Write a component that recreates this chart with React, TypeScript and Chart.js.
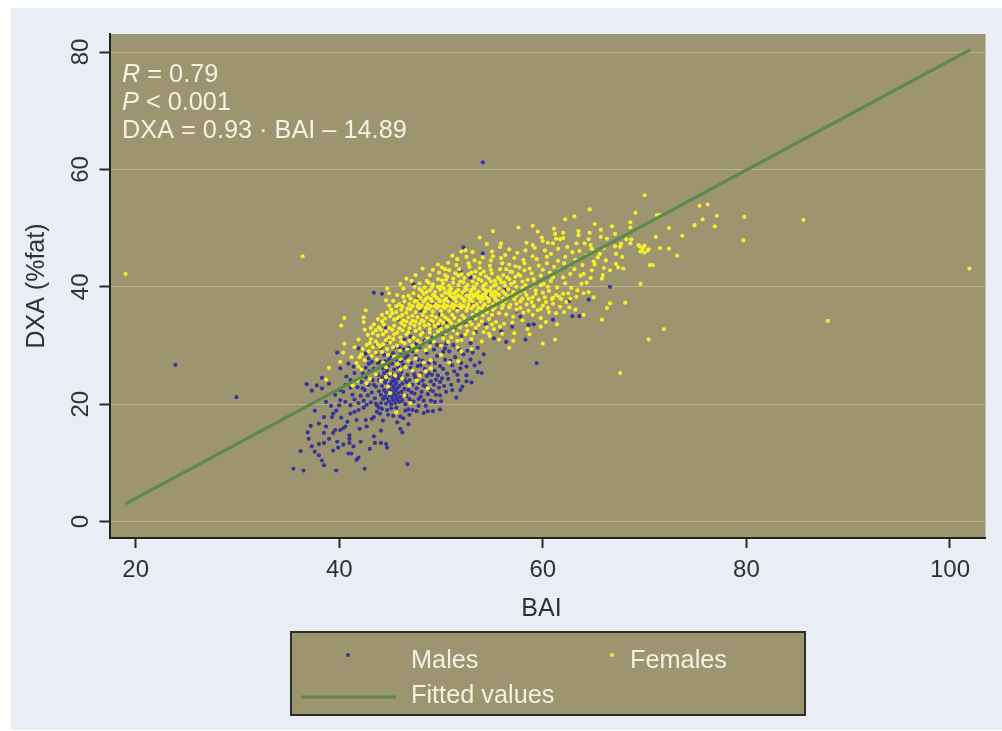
import React, { useEffect, useRef } from "react";
import { Chart, registerables } from "chart.js";

Chart.register(...registerables);

type P = [number, number];

const maleOutliers: P[] = [[23.9,26.7],[29.9,21.2],[54.1,61.2],[52.2,46.7],[54.1,45.7],[43.4,39.0],[44.2,38.8],[47.3,40.4],[66.6,40.0],[62.6,37.6],[62.9,35.0],[59.1,33.6],[57.8,34.9],[57.4,35.9]];

const maleLow: P[] = [[35.5,9.0],[36.5,8.7],[39.7,8.7],[42.5,9.0],[46.7,9.8],[36.2,12.0],[37.3,12.8],[37.6,11.9],[38.0,11.3],[38.3,10.4],[38.5,9.6],[37.0,14.1],[38.0,13.2],[38.5,13.4],[39.0,14.1],[39.4,12.1],[39.8,13.6],[39.9,12.6],[40.4,13.1],[41.0,14.7],[41.0,14.1],[41.0,13.4],[41.4,12.8],[40.9,11.6],[41.2,11.6],[41.9,10.9],[41.7,10.5],[43.0,12.4],[43.5,13.4],[43.4,14.5],[44.1,15.5],[44.6,13.2],[44.7,12.6],[44.1,13.4],[46.0,15.8],[46.2,15.2],[46.8,16.6],[38.0,16.7],[38.5,17.8],[38.7,16.2],[39.3,17.8],[39.4,15.1],[39.6,15.6],[40.1,15.6],[40.4,15.9],[40.6,16.2],[40.8,17.0],[40.2,17.7],[39.7,18.9],[39.4,18.4],[40.1,20.7],[40.6,20.4],[41.1,18.4],[41.5,18.7],[41.9,19.0],[42.4,19.4],[42.6,17.3],[42.7,16.2],[43.2,17.5],[43.4,17.8],[43.7,18.7],[43.9,19.4],[44.2,19.2],[44.7,19.0],[45.1,19.3],[45.6,19.4],[46.0,17.9],[46.5,18.9],[46.8,19.1],[48.3,18.5],[48.7,18.8],[49.2,18.8],[49.9,19.1],[47.8,19.7],[47.1,20.4],[49.4,20.4],[49.9,21.5],[50.5,22.1],[51.5,21.1],[51.9,22.4],[52.1,23.0],[52.5,23.9],[53.0,23.7],[52.5,26.4],[53.6,25.5],[54.0,25.3]];

const maleLeft: P[] = [[36.8,23.4],[37.8,23.2],[38.3,22.7],[37.3,22.3],[38.3,24.5],[39.8,28.8],[40.1,26.1],[41.9,29.5],[40.1,22.4],[40.4,22.1],[40.7,24.7],[41.1,24.1],[40.9,26.9],[41.4,26.4],[42.9,26.9],[42.9,27.8],[43.7,30.2],[43.7,28.6],[41.3,21.6],[41.5,20.8],[41.8,22.9],[41.9,20.2],[42.1,21.4],[42.2,23.8],[42.3,25.3],[42.4,20.6],[42.5,22.4],[42.6,24.6],[42.7,19.9],[42.8,21.5],[42.9,23.3],[43.0,25.6],[43.1,20.3],[43.2,22.0],[43.3,24.1],[43.4,26.0],[43.5,21.0],[43.6,23.0],[43.7,19.8],[43.8,25.0],[43.9,22.2],[44.0,27.2]];

const maleCore: P[] = [[44.1,20.2],[44.1,21.6],[44.2,23.1],[44.2,24.6],[44.3,26.1],[44.3,20.9],[44.4,22.4],[44.4,25.3],[44.5,21.3],[44.5,23.7],[44.5,27.3],[44.6,20.1],[44.6,22.0],[44.6,24.2],[44.7,25.7],[44.7,21.0],[44.8,23.0],[44.8,26.5],[44.9,20.5],[44.9,22.6],[44.9,24.9],[45.0,21.5],[45.0,23.4],[45.0,28.1],[45.1,20.0],[45.1,22.2],[45.1,25.2],[45.2,21.1],[45.2,23.9],[45.2,26.9],[45.3,20.7],[45.3,22.8],[45.3,24.5],[45.4,21.7],[45.4,23.2],[45.4,25.9],[45.5,20.2],[45.5,22.3],[45.5,24.0],[45.6,21.3],[45.6,23.6],[45.6,27.6],[45.7,20.8],[45.7,22.7],[45.7,25.1],[45.8,21.9],[45.8,24.4],[45.8,26.3],[45.9,20.4],[45.9,23.1],[46.0,21.2],[46.0,24.8],[46.0,28.9],[46.1,22.1],[46.1,25.5],[46.2,20.6],[46.2,23.5],[46.3,21.6],[46.3,26.7],[46.4,22.6],[46.4,24.3],[46.5,20.0],[46.5,27.9],[46.6,21.4],[46.6,23.8],[46.7,25.0],[46.8,22.4],[46.8,29.6],[46.9,20.9],[46.9,24.1],[47.0,26.2],[47.1,22.0],[47.1,27.0],[47.2,23.3],[47.3,20.5],[47.3,25.4],[47.4,21.8],[47.5,28.2],[47.5,24.5],[47.6,22.7],[47.7,26.5],[47.8,20.9],[47.8,23.6],[47.9,29.7],[48.0,25.2],[48.1,22.1],[48.2,27.4],[48.2,24.0],[48.3,20.6],[48.4,26.0],[48.5,23.0],[48.6,28.7],[48.7,21.7],[48.8,25.3],[48.9,30.6],[49.0,23.9],[49.1,27.5],[49.2,22.2],[49.3,29.3],[49.4,25.7],[49.5,24.2],[49.6,28.2],[49.8,22.8],[49.9,26.5],[50.0,30.1],[50.1,24.4],[50.2,28.9],[50.4,27.6],[50.5,30.3],[50.6,25.2],[50.8,29.0],[51.0,23.3],[51.1,26.6],[51.2,30.1],[51.4,28.0],[51.6,25.0],[51.8,29.2],[52.0,27.0],[52.6,29.1],[53.1,28.8],[53.8,27.1],[54.2,28.5],[44.4,28.4],[43.8,27.0],[46.3,29.3],[47.6,30.3],[45.4,29.6],[44.8,30.6],[47.0,31.5],[48.3,32.3],[49.2,31.4],[50.1,31.9],[51.3,32.8],[52.0,31.6],[52.9,30.4],[53.4,32.3],[54.4,33.6],[55.2,31.2],[55.9,32.4],[56.4,30.6],[57.0,33.2],[58.3,31.0],[59.4,27.0],[58.6,33.5],[61.0,34.4],[63.6,35.0],[64.5,37.8]];

const maleFill: P[] = [[42.3,22.7],[42.6,26.2],[43.2,27.2],[43.4,23.3],[43.6,20.1],[43.9,24.1],[44.0,18.4],[44.3,17.2],[44.8,18.2],[45.3,18.0],[45.7,16.9],[46.3,17.6],[46.9,18.2],[47.2,19.0],[47.6,18.8],[47.4,24.9],[47.8,27.6],[48.0,21.3],[48.0,26.6],[48.3,23.2],[48.5,19.7],[48.6,24.8],[48.8,27.0],[48.9,22.5],[49.0,20.6],[49.1,25.0],[49.3,23.3],[49.4,27.0],[49.5,21.6],[49.6,30.1],[49.7,24.9],[49.9,23.8],[50.0,20.5],[50.2,26.0],[50.3,23.1],[50.4,29.5],[50.7,24.3],[50.9,27.4],[51.1,22.4],[51.3,25.6],[51.5,29.7],[51.7,24.0],[51.9,26.1],[52.2,28.5],[52.5,24.9],[52.9,27.6],[53.3,26.6],[53.6,29.6],[46.7,28.3],[47.2,29.0],[46.1,27.3],[45.3,28.7],[44.1,29.6],[42.6,28.6],[41.5,25.3],[41.1,22.8],[40.6,23.3],[39.6,21.6],[39.2,19.7],[39.0,23.5],[38.7,20.4],[37.6,18.9],[37.2,16.3],[36.9,15.2],[38.5,15.1],[42.0,15.8],[41.7,17.3],[42.1,13.6],[40.0,19.8],[41.1,19.8],[44.9,27.5],[45.9,29.7],[48.4,30.8],[46.4,31.0],[49.8,33.3],[52.4,33.8],[53.0,34.6]];

const maleHidden: P[] = [[44.6,33.0],[45.8,34.5],[46.9,32.6],[48.0,36.0],[49.1,37.2],[49.9,35.3],[50.8,37.8],[51.6,36.4],[52.3,39.0],[53.1,37.1],[54.0,41.0],[54.7,38.6],[55.3,36.6],[56.3,39.5],[52.9,41.6],[51.9,42.7],[50.6,34.0],[47.7,38.2],[48.9,33.8],[46.2,36.8]];

const femaleOutliers: P[] = [[19.0,42.2],[36.4,45.2],[70.0,55.6],[75.4,53.8],[76.2,54.0],[77.1,52.1],[75.7,51.5],[74.9,50.5],[76.9,50.3],[79.8,51.9],[79.7,47.9],[85.6,51.4],[88.0,34.2],[101.9,43.1],[72.4,50.0],[71.2,52.2],[71.5,52.2],[71.1,48.5],[73.7,48.7],[71.5,46.6],[72.4,46.5],[73.2,45.3],[70.5,43.7],[70.8,43.7],[69.6,46.0],[69.8,46.5],[70.0,47.0],[70.3,46.2],[69.5,46.9],[69.6,40.5],[71.9,32.8],[70.4,31.0],[67.6,25.3],[64.6,53.2],[63.1,52.0],[62.2,51.5],[69.1,52.6],[68.6,51.0],[68.6,50.1],[65.1,50.7],[66.8,50.3],[59.0,50.4],[57.6,50.1],[55.1,49.5],[53.8,48.4],[54.5,47.3],[55.9,47.4],[55.8,46.8],[52.4,46.2],[49.7,43.8],[46.6,41.4],[44.7,39.7],[44.9,38.9],[44.6,37.7],[48.6,41.0],[42.6,36.0],[40.5,34.7],[40.2,33.4],[42.4,34.8],[42.4,34.0],[44.2,35.2],[40.5,30.3],[40.4,28.8],[40.1,27.2],[39.0,26.2],[38.7,24.2],[66.6,37.2],[68.1,37.3],[65.8,34.4],[66.3,36.4]];

const femaleUpper: P[] = [[59.5,49.4],[61.1,49.9],[61.2,49.0],[62.0,49.2],[63.5,49.5],[63.5,48.8],[64.6,49.2],[65.7,49.7],[65.7,48.5],[67.1,49.0],[66.3,48.2],[59.9,48.4],[60.0,47.8],[60.5,47.5],[61.3,48.2],[61.0,47.4],[61.7,48.1],[62.0,48.3],[63.3,47.4],[64.5,48.1],[64.1,47.4],[64.7,47.1],[64.8,46.5],[68.2,48.1],[68.7,48.1],[68.6,47.4],[67.7,47.3],[67.6,46.8],[67.1,46.9],[67.2,45.6],[67.8,45.1],[66.2,44.5],[65.6,45.6],[65.4,45.0],[69.4,47.1],[69.9,46.8],[70.4,46.4],[69.7,46.1],[70.0,45.8],[67.9,43.1],[67.4,43.3],[67.2,43.9],[66.6,42.8],[65.9,42.0],[65.8,41.4],[64.3,40.7],[63.8,40.5],[62.2,40.6],[56.7,46.4],[57.5,45.8],[58.3,46.2],[59.2,46.6],[57.2,44.9],[58.1,44.6],[59.0,45.2],[60.2,46.2],[60.8,45.6],[61.5,46.5],[62.4,46.8],[62.9,45.9],[63.6,46.1],[62.2,45.1],[63.2,44.6],[64.3,45.3],[65.0,44.3],[66.0,43.2],[63.9,43.7],[64.8,42.8],[62.6,43.6],[61.5,44.4],[60.4,44.0],[59.6,43.6],[58.7,43.1],[57.7,43.3],[56.7,43.8],[55.9,44.9],[55.1,45.2],[54.1,45.0],[53.3,44.5],[52.5,45.1],[51.6,44.7],[50.7,44.1],[61.6,42.8],[62.7,42.2],[63.7,41.9],[64.7,41.5],[60.7,42.4],[59.8,41.9],[58.9,42.3],[57.8,41.9],[56.8,42.6],[55.8,43.0],[54.8,43.6],[53.8,43.2],[52.8,43.4],[51.8,43.0],[50.8,42.8],[49.8,42.4],[48.9,42.0]];

const femaleDenseA: P[] = [[50.1,41.1],[50.6,41.7],[51.2,41.4],[51.7,41.9],[52.3,41.5],[52.7,42.1],[53.3,41.7],[53.9,42.2],[54.4,41.8],[55.0,42.3],[55.6,41.6],[56.1,42.0],[56.7,41.3],[57.3,41.7],[58.0,40.9],[58.5,41.2],[59.2,40.7],[60.1,40.5],[60.8,41.0],[61.4,39.9],[49.2,40.4],[49.7,40.0],[50.2,40.5],[50.8,40.2],[51.2,40.7],[51.7,40.3],[52.2,40.8],[52.6,40.3],[53.1,40.9],[53.5,40.5],[54.0,41.0],[54.4,40.5],[54.9,40.9],[55.4,40.4],[55.9,40.8],[56.3,40.2],[56.9,40.5],[57.4,40.0],[58.0,39.8],[58.7,39.9],[59.3,39.4],[60.0,39.0],[60.6,39.3],[61.3,38.6],[62.0,38.8],[62.7,38.0],[63.3,38.3],[64.0,38.9],[47.9,39.6],[48.4,39.9],[48.9,39.4],[49.4,39.1],[49.9,39.5],[50.4,39.0],[50.8,39.4],[51.3,38.9],[51.7,39.5],[52.1,39.0],[52.5,39.6],[52.9,39.1],[53.3,39.7],[53.7,39.2],[54.1,39.8],[54.5,39.3],[54.9,39.8],[55.3,39.2],[55.7,39.7],[56.1,39.2],[56.6,39.6],[57.1,39.1],[57.7,38.9],[58.4,38.6],[59.0,38.2],[59.6,37.8],[60.3,37.4],[61.0,37.1],[61.7,36.6],[46.8,38.5],[47.3,38.9],[47.8,38.4],[48.3,38.8],[48.7,38.2],[49.2,38.6],[49.6,38.1],[50.1,38.5],[50.5,38.0],[50.9,38.5],[51.3,38.0],[51.7,38.5],[52.1,38.0],[52.5,38.5],[52.9,38.0],[53.3,38.6],[53.7,38.1],[54.1,38.6],[54.5,38.1],[54.9,38.6],[55.3,38.1],[55.7,38.6],[56.1,38.0],[56.6,38.4],[57.2,37.9],[57.8,37.5],[58.4,37.0],[59.1,36.7],[59.8,36.2],[60.6,35.7],[45.9,37.0],[46.4,37.5],[46.9,37.0],[47.4,37.5],[47.8,37.0],[48.3,37.5],[48.7,37.0],[49.1,37.5],[49.5,37.0],[49.9,37.5],[50.3,37.0],[50.7,37.5],[51.1,37.0],[51.5,37.5],[51.9,37.0],[52.3,37.5],[52.7,37.0],[53.1,37.5],[53.5,37.0],[53.9,37.5],[54.3,37.0],[54.7,37.5],[55.1,37.0],[55.6,37.5],[56.1,36.9],[56.7,36.5],[57.4,36.1],[58.1,35.6],[59.0,35.2],[59.8,34.7]];

const femaleDenseB: P[] = [[45.1,36.1],[45.6,35.7],[46.1,36.1],[46.6,35.6],[47.0,36.2],[47.5,35.7],[47.9,36.3],[48.4,35.8],[48.8,36.3],[49.2,35.8],[49.6,36.4],[50.0,35.9],[50.4,36.4],[50.8,35.9],[51.2,36.4],[51.6,35.9],[52.0,36.4],[52.5,35.9],[53.0,36.3],[53.5,35.8],[54.0,36.3],[54.5,35.7],[55.1,36.1],[55.7,35.5],[56.4,35.3],[57.1,34.9],[58.0,34.3],[44.5,34.6],[45.0,35.0],[45.4,34.4],[45.9,34.9],[46.3,34.3],[46.8,34.8],[47.2,34.2],[47.7,34.8],[48.1,34.3],[48.6,34.8],[49.0,34.3],[49.5,34.8],[49.9,34.3],[50.4,34.8],[50.8,34.2],[51.3,34.7],[51.8,34.2],[52.3,34.7],[52.8,34.2],[53.4,34.6],[54.0,34.1],[54.7,34.5],[55.4,34.0],[56.2,33.7],[57.0,33.9],[43.4,33.6],[43.9,33.1],[44.4,33.6],[44.9,33.0],[45.4,33.4],[45.9,32.9],[46.4,33.4],[46.9,32.9],[47.4,33.4],[47.9,32.9],[48.4,33.4],[48.9,32.8],[49.4,33.3],[50.0,32.8],[50.6,33.2],[51.2,32.6],[51.9,33.1],[52.6,32.5],[53.4,33.0],[54.2,32.3],[55.2,32.8],[56.0,32.0],[57.2,32.1],[42.8,31.8],[43.3,32.1],[43.8,31.7],[44.3,31.9],[44.9,31.4],[45.4,31.9],[46.0,31.4],[46.6,31.9],[47.3,31.3],[48.0,31.8],[48.7,31.2],[49.4,31.7],[50.2,31.2],[51.0,31.4],[52.0,30.9],[53.0,31.1],[54.0,30.7],[43.0,30.4],[43.6,30.7],[44.3,30.2],[45.0,30.5],[45.7,30.0],[46.4,30.4],[47.2,30.0],[48.0,30.3],[48.9,29.8],[50.0,30.0],[51.6,29.7],[53.0,29.4],[41.9,31.0],[42.3,29.4],[42.9,29.0],[43.6,28.8],[44.2,28.9],[44.8,28.4],[45.4,28.1],[46.0,27.7],[46.8,27.4],[47.5,27.8],[48.3,27.1],[49.0,27.5],[50.0,28.4],[51.7,27.3],[52.0,29.0],[41.7,27.0],[41.9,26.4],[42.2,25.9],[44.3,27.1],[44.6,26.3],[45.0,25.2],[45.5,24.9],[46.0,25.9],[46.5,26.3],[47.2,25.7],[47.9,24.9],[48.5,25.6],[49.0,26.1],[43.6,25.1],[44.1,24.0],[44.8,23.0],[46.4,21.5],[47.0,20.2],[45.6,18.6],[50.8,27.1],[42.7,23.6],[41.8,24.0]];

const femaleDenseC: P[] = [[47.1,41.0],[47.9,40.6],[46.3,39.7],[45.7,38.6],[45.3,37.6],[46.0,40.5],[47.5,42.0],[48.2,43.1],[50.1,43.3],[51.1,45.3],[49.2,42.9],[53.1,45.9],[55.0,46.0],[52.0,46.0],[56.3,45.4],[58.4,47.5],[59.0,47.1],[53.4,42.6],[54.9,42.9],[56.4,43.0],[57.3,43.5],[58.2,44.0],[59.4,44.7],[60.4,45.1],[61.1,43.4],[62.1,44.0],[63.1,43.0],[64.0,42.2],[65.1,43.8],[65.0,46.1],[66.0,46.6],[50.3,39.7],[51.0,39.7],[52.4,39.9],[53.2,40.0],[54.2,40.2],[55.2,40.2],[56.2,40.7],[51.5,38.3],[53.0,38.8],[54.4,38.8],[53.6,38.5],[55.0,39.0],[52.8,37.7],[54.1,37.9],[55.4,37.7],[56.3,37.6],[57.0,38.6],[58.2,39.2],[59.0,40.2],[59.8,40.3],[60.5,40.0],[61.0,38.1],[62.3,37.4],[63.4,39.4],[62.8,39.8],[64.5,39.1],[65.0,38.2],[56.8,36.9],[57.8,36.4],[58.6,35.9],[59.5,36.0],[60.5,36.4],[61.3,35.5],[62.1,35.7],[63.2,36.1],[64.0,35.2],[60.3,34.0],[61.4,33.6],[62.6,36.5],[58.5,32.8],[59.8,33.2],[55.7,31.0],[54.8,31.6],[57.1,30.8],[58.7,31.9],[61.2,31.0],[60.0,30.3],[56.7,29.6]];

const femaleFill: P[] = [[46.2,35.2],[47.2,35.1],[48.2,35.2],[49.1,35.1],[50.1,35.2],[51.1,35.2],[52.1,35.1],[53.1,35.2],[54.1,35.1],[55.0,35.2],[49.7,41.3],[50.4,42.0],[51.4,42.3],[52.0,42.1],[53.0,42.4],[54.2,42.6],[55.3,41.0],[56.5,41.6],[57.6,42.1],[48.8,40.7],[50.5,41.2],[51.9,40.9],[53.7,41.3],[54.7,41.4],[55.8,41.3],[57.2,40.8],[58.3,40.3],[47.4,40.0],[48.1,39.3],[48.6,39.1],[49.1,39.9],[50.0,40.0],[50.9,39.0],[51.5,39.2],[52.3,39.3],[53.0,39.5],[53.5,38.9],[54.3,39.5],[54.8,39.3],[55.5,38.8],[56.3,38.8],[57.4,38.5],[46.3,38.3],[47.0,38.0],[47.6,37.6],[48.0,38.1],[48.5,37.9],[49.0,37.9],[49.4,38.4],[49.8,37.8],[50.3,37.7],[50.7,38.9],[51.1,38.2],[51.9,38.3],[52.3,37.8],[52.7,38.4],[53.2,38.3],[53.9,38.3],[54.3,38.4],[54.7,37.9],[55.2,38.4],[55.9,37.3],[44.9,36.8],[45.6,36.7],[46.2,36.7],[46.7,36.3],[47.2,36.7],[47.7,36.6],[48.1,36.8],[48.5,36.4],[49.0,36.7],[49.4,36.7],[49.8,36.7],[50.2,36.6],[50.6,36.7],[51.0,36.6],[51.4,36.8],[51.8,36.7],[52.2,36.7],[52.6,36.4],[53.2,36.7],[53.7,36.4],[54.2,36.8],[54.7,36.6],[55.3,36.5],[56.0,36.4],[43.8,34.5],[44.2,34.1],[44.7,35.6],[45.2,35.5],[45.7,34.6],[46.1,33.8],[46.6,34.1],[47.0,33.7],[47.5,34.1],[47.9,33.7],[48.3,34.1],[48.8,33.6],[49.2,34.1],[49.7,33.7],[50.2,33.9],[50.6,34.5],[51.0,33.8],[51.5,33.5],[52.0,33.8],[52.5,33.4],[53.0,33.6],[53.7,33.5],[54.5,33.1],[55.0,33.6],[55.8,33.2],[43.1,33.0],[43.6,32.6],[44.1,32.7],[44.6,32.4],[45.2,32.7],[45.7,32.2],[46.2,32.6],[46.8,32.3],[47.5,32.5],[48.2,32.2],[48.9,32.2],[49.7,32.4],[50.4,32.1],[51.6,32.0],[52.4,31.9],[53.2,32.1],[54.7,32.0],[42.5,32.7],[43.1,31.1],[43.8,30.2],[44.6,30.9],[45.3,31.1],[46.1,30.7],[46.9,30.8],[47.7,30.8],[48.5,30.6],[49.3,30.7],[50.7,30.6],[51.6,30.8],[42.2,28.5],[42.7,30.1],[43.3,29.7],[44.0,29.8],[44.7,29.4],[45.3,29.7],[46.0,29.1],[46.7,29.3],[47.6,29.1],[48.5,29.2],[41.2,28.0],[41.5,29.7],[42.0,28.0],[43.2,28.2],[43.7,27.6],[45.7,26.8],[46.2,24.4],[44.6,24.6],[43.0,24.3],[42.5,27.5],[41.3,23.2],[46.9,23.2],[47.6,24.0],[48.7,22.7],[45.0,21.9],[58.0,38.0],[58.6,38.0],[59.3,38.8],[60.2,38.2],[60.9,37.9],[61.8,37.9],[62.5,38.9],[57.4,37.1],[58.9,37.4],[60.0,36.8],[61.6,38.3],[62.0,41.6],[61.0,41.6],[60.0,42.9],[59.1,41.3],[58.2,42.8],[57.0,42.5],[56.0,44.0],[54.9,44.5],[53.8,44.1],[52.7,44.0],[51.5,43.7],[50.4,43.0]];

const fittedBAI = [19, 102];
const fittedDXA = [3.0, 80.4];

const maleValues = [...maleLow, ...maleLeft, ...maleCore, ...maleFill, ...maleHidden, ...maleOutliers];
const femaleValues = [...femaleOutliers, ...femaleUpper, ...femaleDenseA, ...femaleDenseB, ...femaleDenseC, ...femaleFill];

const statLines = [
  [["R", true], [" = 0.79", false]],
  [["P", true], [" < 0.001", false]],
  [["DXA = 0.93 · BAI – 14.89", false]],
] as [string, boolean][][];

const xTitle = "BAI";
const FONT = '"Liberation Sans", Arial, sans-serif';
const PANEL = "#e9eef5";
const PLOT = "#9d956f";
const INK = "#2f3136";
const LIGHT = "#f4f1e2";
const BLUE = "#36369c";
const YELLOW = "#f6ec2c";
const GREEN = "#5b8a4b";

const decor = {
  id: "decor",
  beforeDraw(c: any) {
    const { ctx, chartArea: a } = c;
    ctx.save();
    ctx.fillStyle = "#ffffff";
    ctx.fillRect(0, 0, c.width, c.height);
    ctx.fillStyle = PANEL;
    ctx.fillRect(11, 8, c.width - 11, c.height - 9);
    ctx.fillStyle = PLOT;
    ctx.fillRect(a.left, a.top, a.right - a.left, a.bottom - a.top);
    ctx.restore();
  },
  afterDraw(c: any) {
    const { ctx } = c;
    ctx.save();
    ctx.textBaseline = "alphabetic";
    ctx.fillStyle = INK;
    ctx.font = `25px ${FONT}`;
    ctx.textAlign = "center";
    ctx.fillText(xTitle, 541.5, 616);
    ctx.textAlign = "left";
    ctx.fillStyle = LIGHT;
    statLines.forEach((runs, i) => {
      let x = 122;
      runs.forEach(([t, it]) => {
        ctx.font = `${it ? "italic " : ""}25.3px ${FONT}`;
        ctx.fillText(t, x, 82 + i * 28.2);
        x += ctx.measureText(t).width;
      });
    });
    ctx.fillStyle = PLOT;
    ctx.fillRect(291, 632, 514, 83);
    ctx.strokeStyle = "#2b2c2c";
    ctx.lineWidth = 2;
    ctx.strokeRect(291, 632, 514, 83);
    const [fit, fem, mal] = c.data.datasets;
    ctx.fillStyle = BLUE;
    ctx.beginPath();
    ctx.arc(348, 655, 2, 0, Math.PI * 2);
    ctx.fill();
    ctx.fillStyle = YELLOW;
    ctx.beginPath();
    ctx.arc(612, 655, 2, 0, Math.PI * 2);
    ctx.fill();
    ctx.strokeStyle = GREEN;
    ctx.lineWidth = 3;
    ctx.beginPath();
    ctx.moveTo(301, 697);
    ctx.lineTo(396, 697);
    ctx.stroke();
    ctx.fillStyle = LIGHT;
    ctx.font = `25.3px ${FONT}`;
    ctx.fillText(mal.label, 411, 668);
    ctx.fillText(fem.label, 630, 668);
    ctx.fillText(fit.label, 411, 703);
    ctx.restore();
  },
};

export default function App() {
  const ref = useRef<HTMLCanvasElement>(null);
  useEffect(() => {
    document.body.style.margin = "0";
    const toPts = (a: P[]) => a.map(([x, y]) => ({ x, y }));
    const chart = new Chart(ref.current!, {
      type: "scatter",
      data: {
        datasets: [
          {
            type: "line",
            label: "Fitted values",
            data: fittedBAI.map((x, i) => ({ x, y: fittedDXA[i] })),
            borderColor: GREEN,
            borderWidth: 3.2,
            pointRadius: 0,
            order: 0,
          },
          {
            label: "Females",
            data: toPts(femaleValues),
            backgroundColor: YELLOW,
            borderWidth: 0,
            pointRadius: 2.1,
            order: 1,
          },
          {
            label: "Males",
            data: toPts(maleValues),
            backgroundColor: BLUE,
            borderWidth: 0,
            pointRadius: 2.1,
            order: 2,
          },
        ],
      } as any,
      options: {
        responsive: false,
        animation: false,
        devicePixelRatio: 1,
        layout: { padding: { left: 10, top: 34, right: 16.5, bottom: 133 } },
        plugins: { legend: { display: false }, tooltip: { enabled: false } },
        scales: {
          x: {
            type: "linear",
            min: 17.43,
            max: 103.49,
            afterFit: (s: any) => { s.height = 60; },
            border: { color: "#222", width: 2 },
            grid: { drawOnChartArea: false, tickColor: "#2a2a2a", tickWidth: 2, tickLength: 10 },
            ticks: {
              stepSize: 20,
              includeBounds: false,
              autoSkip: false,
              maxRotation: 0,
              padding: 8,
              color: INK,
              font: { family: FONT, size: 24 },
            },
          },
          y: {
            type: "linear",
            min: -2.8,
            max: 83.07,
            afterFit: (s: any) => { s.width = 99.5; },
            border: { color: "#222", width: 2 },
            grid: { color: "rgba(205,200,165,0.55)", lineWidth: 1, tickColor: "#2a2a2a", tickWidth: 2, tickLength: 10 },
            title: {
              display: true,
              text: "DXA (%fat)",
              color: INK,
              font: { family: FONT, size: 25 },
              padding: { top: 12, bottom: 0 },
            },
            ticks: {
              stepSize: 20,
              includeBounds: false,
              autoSkip: false,
              minRotation: 90,
              maxRotation: 90,
              crossAlign: "center",
              padding: 5,
              color: INK,
              font: { family: FONT, size: 24 },
            },
          },
        },
      } as any,
      plugins: [decor],
    });
    return () => chart.destroy();
  }, []);
  return (
    <div style={{ position: "absolute", left: 0, top: 0, width: 1002, height: 731 }}>
      <canvas ref={ref} width={1002} height={731} style={{ display: "block" }} />
    </div>
  );
}
